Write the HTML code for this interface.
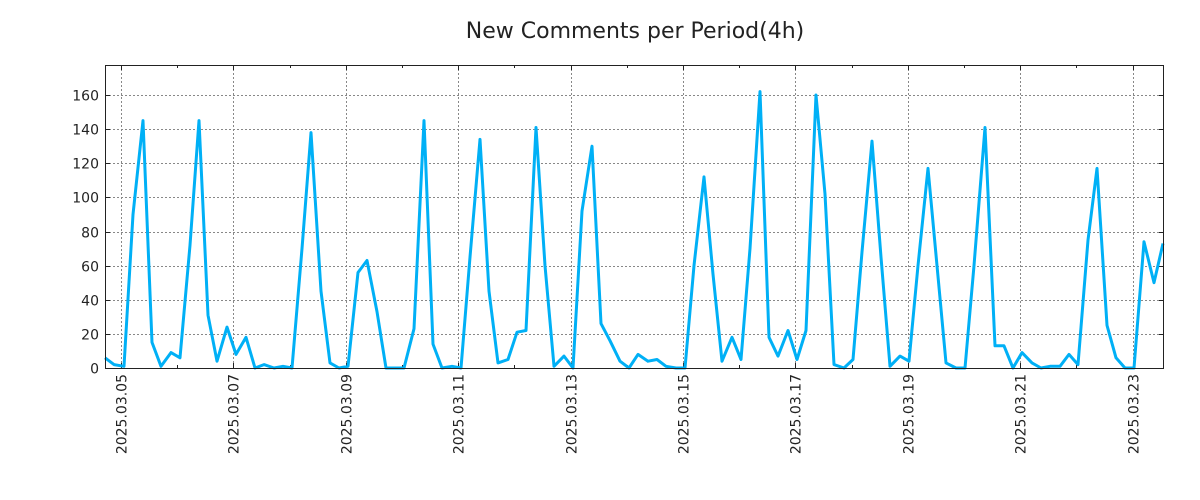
<!DOCTYPE html>
<html><head><meta charset="utf-8"><style>
body{margin:0;background:#fff;}
svg{display:block;font-family:"DejaVu Sans","Liberation Sans",sans-serif;}
</style></head><body>
<svg id="s" width="1200" height="500" xmlns="http://www.w3.org/2000/svg">
<rect width="1200" height="500" fill="#fff"/>
<text x="635" y="38" font-size="22" text-anchor="middle" fill="#222">New Comments per Period(4h)</text>
<g id="grid" stroke="#888" stroke-dasharray="2,2" stroke-width="1"></g>
<g id="ticks" stroke="#222" stroke-width="1"></g>
<g id="lab" font-size="14" fill="#222"></g>
<polyline id="line" fill="none" stroke="#00b0f6" stroke-width="3" stroke-linejoin="round"/>
<rect x="105.5" y="65.5" width="1058" height="303" fill="none" stroke="#222" stroke-width="1"/>
</svg>
<script>
var pts=[[105,6],[114,2],[124,1],[133,90],[143,145],[152,15],[161,1],[171,9],[180,6],[190,72],[199,145],[208,31],[217,4],[227,24],[236,8],[246,18],[255,0],[264,2],[274,0],[283,1],[292,0],[302,70],[311,138],[321,45],[330,3],[339,0],[348,1],[358,56],[367,63],[377,33],[386,0],[395,0],[404,0],[414,23],[424,145],[433,14],[442,0],[452,1],[461,0],[470,65],[480,134],[489,45],[498,3],[508,5],[517,21],[526,22],[536,141],[545,60],[554,1],[564,7],[573,0],[582,92],[592,130],[601,26],[610,16],[620,4],[629,0],[638,8],[648,4],[657,5],[666,1],[676,0],[685,0],[694,60],[704,112],[713,55],[722,4],[732,18],[741,5],[750,70],[760,162],[769,18],[778,7],[788,22],[797,5],[806,22],[816,160],[825,102],[834,2],[844,0],[853,5],[862,68],[872,133],[881,65],[890,1],[900,7],[909,4],[918,60],[928,117],[937,60],[946,3],[956,0],[965,0],[974,60],[985,141],[995,13],[1004,13],[1013,0],[1022,9],[1032,3],[1041,0],[1050,1],[1060,1],[1069,8],[1078,2],[1088,75],[1097,117],[1107,25],[1116,6],[1125,0],[1134,0],[1144,74],[1154,50],[1163,73]];
function Y(v){return 368-v*1.706;}
document.getElementById('line').setAttribute('points',pts.map(function(p){return p[0]+','+Y(p[1]).toFixed(1)}).join(' '));
var ns='http://www.w3.org/2000/svg',g=document.getElementById('grid'),t=document.getElementById('ticks'),l=document.getElementById('lab');
function el(par,n,a,txt){var e=document.createElementNS(ns,n);for(var k in a)e.setAttribute(k,a[k]);if(txt)e.textContent=txt;par.appendChild(e);}
for(var v=0;v<=160;v+=20){var y=Math.round(Y(v))+0.5;
 if(v>0)el(g,'line',{x1:105,x2:1164,y1:y,y2:y});
 el(t,'line',{x1:105,x2:110,y1:y,y2:y});el(t,'line',{x1:1159,x2:1164,y1:y,y2:y});
 el(l,'text',{x:99,y:y+5,'text-anchor':'end'},String(v));}
var days=['05','07','09','11','13','15','17','19','21','23'];
for(var i=0;i<10;i++){var x=Math.round(121+i*112.4)+0.5;
 el(g,'line',{x1:x,x2:x,y1:65,y2:368});
 el(t,'line',{x1:x,x2:x,y1:363,y2:368});el(t,'line',{x1:x,x2:x,y1:65,y2:70});
 el(l,'text',{x:0,y:0,transform:'translate('+(x+5)+',374) rotate(-90)','text-anchor':'end'},'2025.03.'+days[i]);}
for(var d=0;d<20;d++){var x=Math.round(121+d*56.2-56.2)+0.5;if(x>105&&x<1164&&d%2==0){el(t,'line',{x1:x,x2:x,y1:365,y2:368});el(t,'line',{x1:x,x2:x,y1:65,y2:68});}}
</script>
</body></html>
